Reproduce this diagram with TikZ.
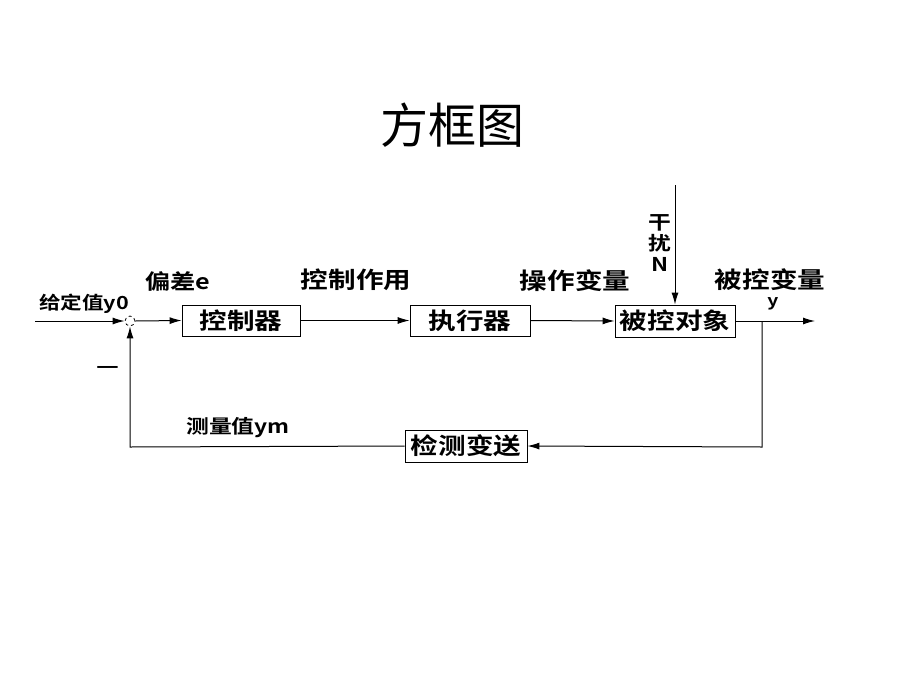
\documentclass[tikz,border=0pt]{standalone}
\usepackage{fontspec}
\setmainfont{Noto Sans CJK SC}[BoldFont={Noto Sans CJK SC Bold}, BoldFeatures={FakeStretch=1.2}]
\usetikzlibrary{arrows.meta}
\tikzset{blk/.style={draw, thick, minimum width=118pt, minimum height=31pt, inner sep=0pt, font=\fontsize{23}{23}\selectfont\bfseries},
lbl/.style={inner sep=0pt, font=\fontsize{21}{21}\selectfont\bfseries}}
\begin{document}
\begin{tikzpicture}[x=1pt, y=-1pt, >={Latex[length=12pt,width=7pt]}, line width=1pt]
\useasboundingbox (0,0) rectangle (900,675);
\node[font=\fontsize{48}{48}\selectfont] (title) at (452,125) {方框图};

\coordinate (in) at (35,321);
\node[draw, dashed, circle, minimum size=10pt, inner sep=0pt, line width=.8pt] (sum) at (130,321) {};
\node[blk] (ctrl) at (241,320.5) {控制器};
\node[blk, minimum width=120pt] (act) at (470,320.5) {执行器};
\node[blk, minimum width=120pt, minimum height=32pt] (plant) at (675,321) {被控对象};
\node[blk, minimum width=122pt, minimum height=32pt] (sens) at (466,446) {检测变送};
\coordinate (br) at (762,321);
\coordinate (out) at (815,321);
\coordinate (dist) at (675,185);
\coordinate (c1) at (762,447);
\coordinate (c2) at (130,447);

\draw[->] (in)--(sum.west);
\draw[->] (sum.east)--(ctrl.west);
\draw[->] (ctrl.east)--(act.west);
\draw[->] (act.east)--(plant.west);
\draw[->] (plant.east)--(out);
\draw[->] (dist)--(plant.north);
\draw[->] (br)--(c1)--(sens.east);
\draw[->] (sens.west)--(c2)--(sum.south);

\node[lbl, font=\fontsize{18}{18}\selectfont\bfseries] (setp) at (84,304) {给定值y0};
\node[lbl] (err) at (178,281) {偏差e};
\node[lbl, font=\fontsize{23}{23}\selectfont\bfseries] (u) at (356,280) {控制作用};
\node[lbl, font=\fontsize{23}{23}\selectfont\bfseries] (q) at (575,281) {操作变量};
\node[lbl, font=\fontsize{23}{23}\selectfont\bfseries] (yv) at (770,280) {被控变量};
\node[lbl, font=\fontsize{16}{16}\selectfont\bfseries] (y) at (773,304) {y};
\node[lbl, align=center, font=\fontsize{19}{21}\selectfont\bfseries] (dn) at (660,243) {干\\扰\\N};
\node[lbl] (minus) at (108,370) {—};
\node[lbl, font=\fontsize{19}{19}\selectfont\bfseries] (ym) at (238,428) {测量值ym};
\end{tikzpicture}
\end{document}
